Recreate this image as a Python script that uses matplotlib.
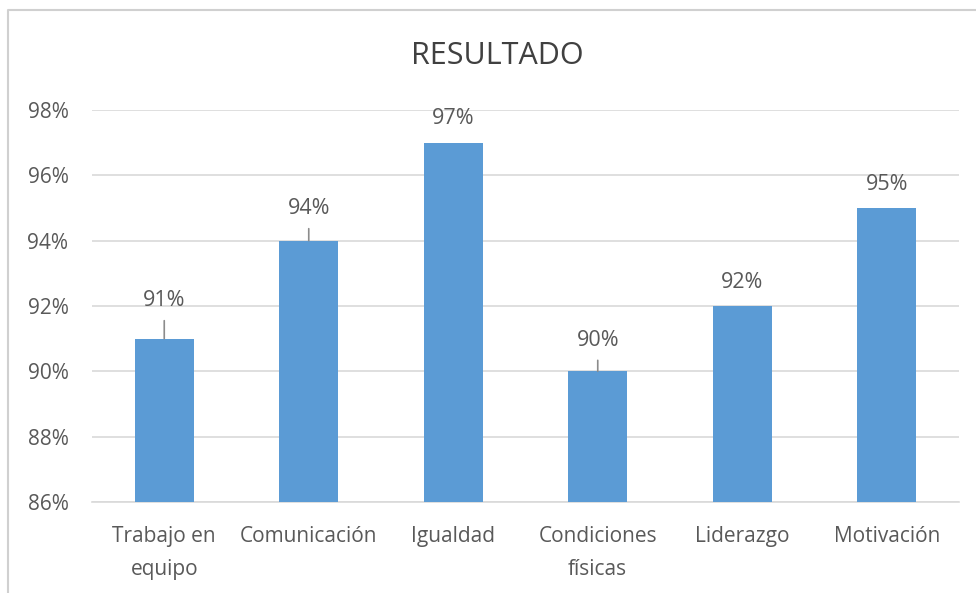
import matplotlib.pyplot as plt
from matplotlib.lines import Line2D

categories = ["Trabajo en\nequipo", "Comunicación", "Igualdad", "Condiciones\nfísicas", "Liderazgo", "Motivación"]
values = [91, 94, 97, 90, 92, 95]
ticks = [86, 88, 90, 92, 94, 96, 98]

# label offsets in pixels above the bar top, and whether a leader line is drawn
label_offset = [38, 32, 24, 31, 24, 24]
leader = [True, True, False, True, False, False]

plt.rcParams['font.family'] = ['Open Sans', 'DejaVu Sans']
gray = "#595959"

fig = plt.figure(figsize=(9.76, 5.93), dpi=100)
ax = fig.add_axes([92/976, 1-502/593, (959-92)/976, (502-110)/593])

x = range(len(categories))
ax.bar(x, values, width=0.41, color="#5B9BD5", zorder=3, bottom=0)
ax.set_ylim(86, 98)
ax.set_xlim(-0.5, len(categories)-0.5)
ax.set_yticks(ticks)
ax.set_yticklabels([f"{t}%" for t in ticks])
ax.grid(axis="y", color="#D9D9D9", linewidth=1.2, zorder=0)
ax.set_xticks(list(x))
ax.set_xticklabels(categories, linespacing=1.75)
ax.tick_params(length=0, labelsize=15, colors=gray)
ax.tick_params(axis="y", pad=17)
ax.tick_params(axis="x", pad=17)
for s in ax.spines.values():
    s.set_visible(False)
ax.spines["bottom"].set_visible(True)
ax.spines["bottom"].set_color("#D9D9D9")
ax.spines["bottom"].set_linewidth(1.2)

pt = 72/100
for i, v in enumerate(values):
    off = label_offset[i]*pt
    ax.annotate(f"{v}%", (i, v), xytext=(0, off), textcoords="offset points",
                ha="center", va="center", fontsize=15.5, color=gray)
    if leader[i]:
        ax.annotate("", (i, v), xytext=(0, off-20*pt), textcoords="offset points",
                    arrowprops=dict(arrowstyle="-", color="#8C8C8C", lw=1.2, shrinkA=0, shrinkB=0))

fig.text(497/976, 1-56/593, "RESULTADO", ha="center", va="center", fontsize=22, color="#404040")

# chart area border (top and left visible)
fig.add_artist(Line2D([8/976, 8/976, 1], [0, 1-10/593, 1-10/593], transform=fig.transFigure,
                      color="#D0D0D0", lw=1.5))

fig.savefig("out.png", dpi=100)
